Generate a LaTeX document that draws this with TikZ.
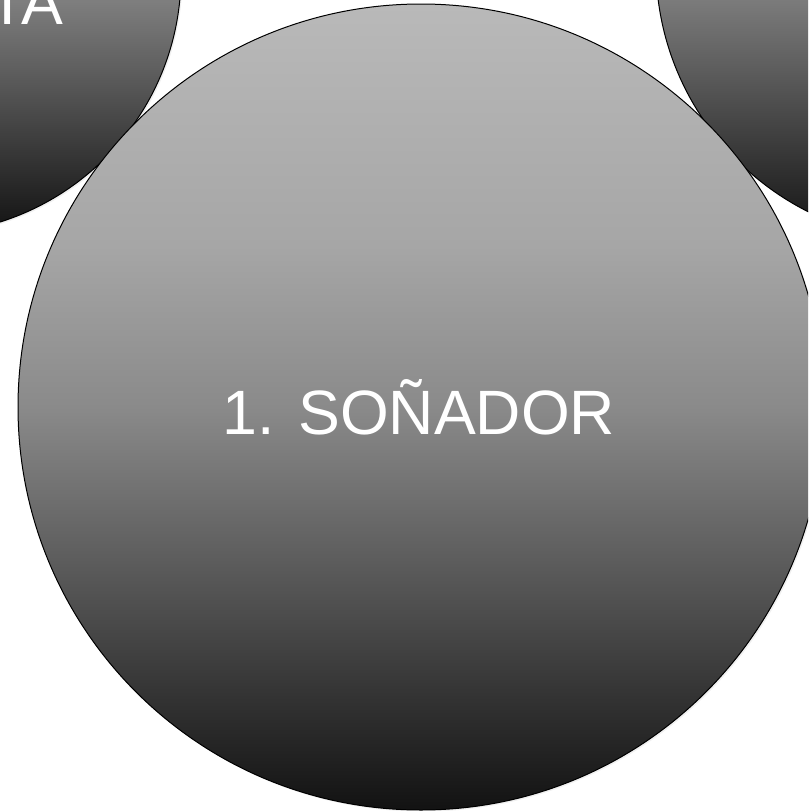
\documentclass[tikz,border=0pt]{standalone}
\usepackage{fontspec}
\setmainfont{Liberation Sans}
\usepackage{tikz}
\usetikzlibrary{shadows}

\definecolor{shadeA}{HTML}{121212}
\definecolor{shadeB}{HTML}{333333}
\definecolor{shadeC}{HTML}{5F5F5F}
\definecolor{shadeD}{HTML}{8A8A8A}
\definecolor{shadeE}{HTML}{A6A6A6}
\definecolor{shadeF}{HTML}{B9B9B9}
\pgfdeclareverticalshading{orbshade}{100bp}{color(0bp)=(shadeA); color(25bp)=(shadeA); color(32bp)=(shadeB); color(41bp)=(shadeC); color(50bp)=(shadeD); color(60bp)=(shadeE); color(75bp)=(shadeF); color(100bp)=(shadeF)}

\begin{document}
\begin{tikzpicture}[x=0.75pt,y=-0.75pt,semithick]
	\tikzstyle{orb}=[circle, draw=black, line width=0.75pt, shading=orbshade, inner sep=0pt, drop shadow={opacity=0.12, shadow xshift=1.2pt, shadow yshift=-1.2pt}]
	\tikzstyle{orbtext}=[text=white, font=\fontsize{47}{56}\selectfont]
	
	\useasboundingbox (0,0) rectangle (808,811);
	\clip (0,0) rectangle (808,811);
	
	\node[orb, minimum size=388.5pt] (realist) at (-78,-25) {};
	\node[orb, minimum size=414pt]   (critic)  at (932,-35) {};
	\node[orb, minimum size=604.5pt] (dreamer) at (421,407) {};
	
	\node[orbtext] (dreamertext) at (419,407) {1. SOÑADOR};
	\node[orbtext, anchor=base east, inner sep=0pt] (realisttext) at (64,24) {TA};
	
\end{tikzpicture}
\end{document}
